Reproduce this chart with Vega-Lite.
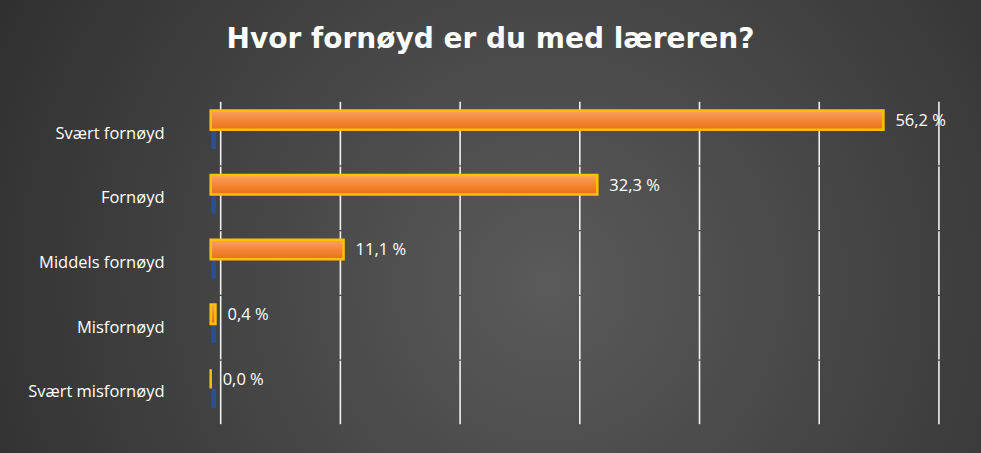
{
  "$schema": "https://vega.github.io/schema/vega-lite/v6.json",
  "width": 981,
  "height": 453,
  "autosize": {"type": "none"},
  "padding": 0,
  "background": "#2e2e2e",
  "title": {
    "text": "Hvor fornøyd er du med læreren?",
    "font": "DejaVu Sans",
    "fontSize": 28,
    "fontWeight": "bold",
    "color": "#ffffff",
    "anchor": "middle",
    "offset": -54
  },
  "config": {
    "font": "Open Sans",
    "view": {
      "stroke": null,
      "fill": {
        "gradient": "radial",
        "x1": 0.56, "y1": 0.56, "r1": 0,
        "x2": 0.56, "y2": 0.56, "r2": 0.78,
        "stops": [
          {"offset": 0, "color": "#5a5a5a"},
          {"offset": 1, "color": "#262626"}
        ]
      }
    }
  },
  "datasets": {
    "svar": [
      {"kategori": "Svært fornøyd", "serie": "Serie 1", "andel": 56.2},
      {"kategori": "Fornøyd", "serie": "Serie 1", "andel": 32.3},
      {"kategori": "Middels fornøyd", "serie": "Serie 1", "andel": 11.1},
      {"kategori": "Misfornøyd", "serie": "Serie 1", "andel": 0.4},
      {"kategori": "Svært misfornøyd", "serie": "Serie 1", "andel": 0.0},
      {"kategori": "Svært fornøyd", "serie": "Serie 2", "andel": 0},
      {"kategori": "Fornøyd", "serie": "Serie 2", "andel": 0},
      {"kategori": "Middels fornøyd", "serie": "Serie 2", "andel": 0},
      {"kategori": "Misfornøyd", "serie": "Serie 2", "andel": 0},
      {"kategori": "Svært misfornøyd", "serie": "Serie 2", "andel": 0}
    ],
    "rutenett": [
      {"kategori": "Svært fornøyd", "ticks": [0, 10, 20, 30, 40, 50, 60]},
      {"kategori": "Fornøyd", "ticks": [0, 10, 20, 30, 40, 50, 60]},
      {"kategori": "Middels fornøyd", "ticks": [0, 10, 20, 30, 40, 50, 60]},
      {"kategori": "Misfornøyd", "ticks": [0, 10, 20, 30, 40, 50, 60]},
      {"kategori": "Svært misfornøyd", "ticks": [0, 10, 20, 30, 40, 50, 60]}
    ]
  },
  "encoding": {
    "y": {
      "field": "kategori",
      "type": "nominal",
      "sort": ["Svært fornøyd", "Fornøyd", "Middels fornøyd", "Misfornøyd", "Svært misfornøyd"],
      "scale": {"paddingInner": 0, "paddingOuter": 1.067, "align": 0.782},
      "axis": {
        "title": null,
        "orient": "left",
        "offset": -164,
        "domain": false,
        "ticks": false,
        "grid": false,
        "labelPadding": 0,
        "labelColor": "#ffffff",
        "labelFont": "Open Sans",
        "labelFontSize": 16.5
      }
    }
  },
  "layer": [
    {
      "data": {"name": "rutenett"},
      "transform": [{"flatten": ["ticks"]}],
      "mark": {"type": "tick", "orient": "vertical", "size": 63.5, "thickness": 1.6, "color": "#f0f0f0", "opacity": 1, "xOffset": 10},
      "encoding": {
        "x": {"field": "ticks", "type": "quantitative", "scale": {"domain": [-17.6, 64.35], "nice": false, "zero": false}, "axis": null}
      }
    },
    {
      "data": {"name": "svar"},
      "transform": [{"filter": "datum.serie === 'Serie 2'"}],
      "mark": {"type": "bar", "fill": "#2f5597", "stroke": "#2b4f8f", "strokeWidth": 5, "xOffset": 3},
      "encoding": {
        "x": {"field": "andel", "type": "quantitative", "axis": null},
        "yOffset": {"field": "serie", "type": "nominal", "scale": {"paddingInner": 0, "paddingOuter": 0.671, "align": 0.353}}
      }
    },
    {
      "data": {"name": "svar"},
      "transform": [{"filter": "datum.serie === 'Serie 1'"}],
      "mark": {
        "type": "bar",
        "fill": {
          "gradient": "linear", "x1": 0, "y1": 0, "x2": 0, "y2": 1,
          "stops": [
            {"offset": 0, "color": "#f9a362"},
            {"offset": 0.5, "color": "#f58634"},
            {"offset": 1, "color": "#e8701a"}
          ]
        },
        "stroke": "#ffc000",
        "strokeWidth": 2.5
      },
      "encoding": {
        "x": {"field": "andel", "type": "quantitative", "axis": null},
        "yOffset": {"field": "serie", "type": "nominal"}
      }
    },
    {
      "data": {"name": "svar"},
      "transform": [
        {"filter": "datum.serie === 'Serie 1'"},
        {"calculate": "replace(format(datum.andel, '.1f'), '.', ',') + ' %'", "as": "etikett"}
      ],
      "mark": {"type": "text", "align": "left", "baseline": "middle", "dx": 12, "dy": 1, "color": "#ffffff", "font": "Open Sans", "fontSize": 16.5},
      "encoding": {
        "x": {"field": "andel", "type": "quantitative", "axis": null},
        "yOffset": {"field": "serie", "type": "nominal"},
        "text": {"field": "etikett", "type": "nominal"}
      }
    }
  ]
}
